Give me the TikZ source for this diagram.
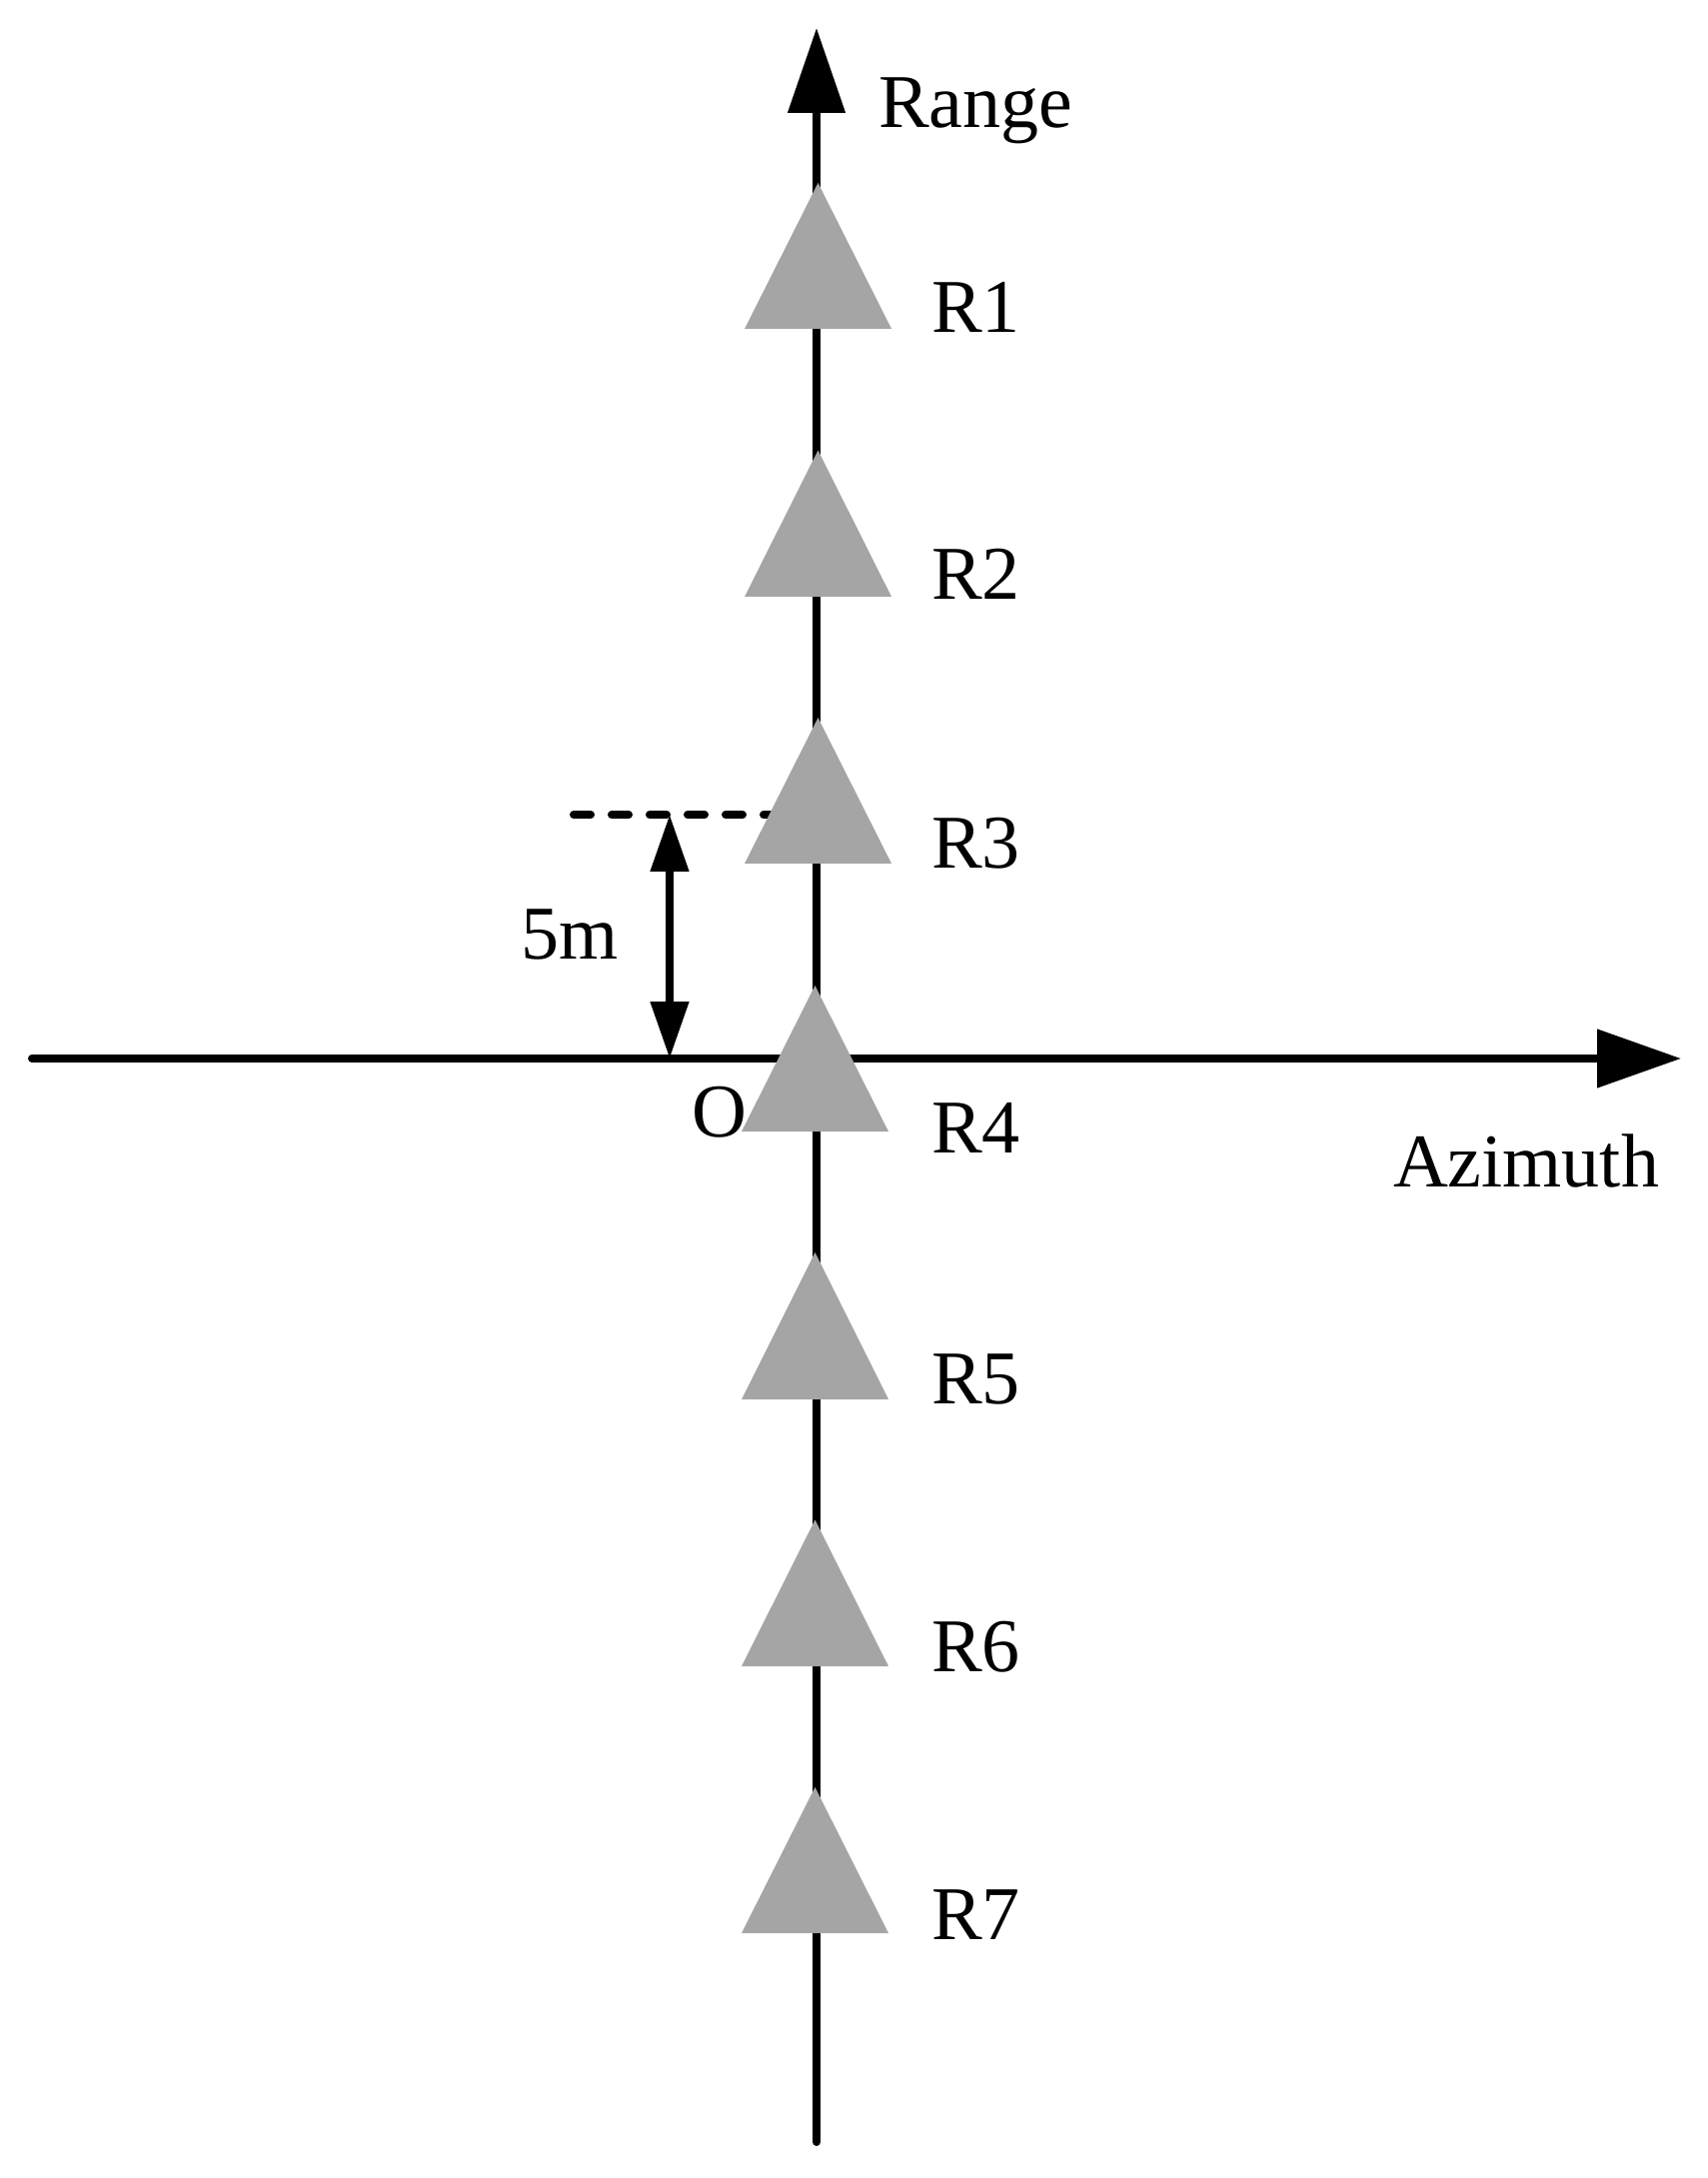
\documentclass[tikz,border=0pt]{standalone}
\usepackage{fontspec}
\setmainfont{Liberation Serif}
\usetikzlibrary{arrows.meta}
\definecolor{trigray}{RGB}{165,165,165}
\tikzset{every picture/.style={line width=2pt, line cap=round}}
\tikzset{axislabel/.style={anchor=base west, inner sep=0pt, font=\fontsize{19}{22}\selectfont}}

\begin{document}
\begin{tikzpicture}[x=0.25pt,y=0.25pt,yscale=-1,xscale=1]
	\useasboundingbox (0,0) rectangle (1709,2179);
	
	%Axis ends
	\coordinate (azL) at (32,1059);
	\coordinate (azR) at (1682,1059);
	\coordinate (rgB) at (817,2143);
	\coordinate (rgT) at (817,28);
	\coordinate (dimT) at (670,815);
	\coordinate (dimB) at (670,1059);
	\coordinate (dashL) at (574,815);
	\coordinate (dashR) at (800,815);
	
	%Straight Lines [Range axis]
	\draw [-{Triangle[length=21.25pt,width=14pt]}] (rgB) -- (rgT) ;
	%Straight Lines [Azimuth axis]
	\draw [-{Triangle[length=21pt,width=14.25pt]}] (azL) -- (azR) ;
	%Straight Lines [5m mark]
	\draw [{Triangle[length=14.25pt,width=9.25pt]}-{Triangle[length=14.25pt,width=9.25pt]}] (dimT) -- (dimB) ;
	%Straight Lines [dashed level]
	\draw [dash pattern={on 4.25pt off 5.25pt}] (dashL) -- (dashR) ;
	
	%Shape: Triangle [R1]
	\fill [trigray] (818.5,183) -- (892,329) -- (745,329) -- cycle ;
	%Shape: Triangle [R2]
	\fill [trigray] (818.5,450.5) -- (892,597) -- (745,597) -- cycle ;
	%Shape: Triangle [R3]
	\fill [trigray] (818.5,718) -- (892,864) -- (745,864) -- cycle ;
	%Shape: Triangle [R4]
	\fill [trigray] (815.5,986) -- (889,1132) -- (742,1132) -- cycle ;
	%Shape: Triangle [R5]
	\fill [trigray] (815.5,1253) -- (889,1400) -- (742,1400) -- cycle ;
	%Shape: Triangle [R6]
	\fill [trigray] (815.5,1520.5) -- (889,1667) -- (742,1667) -- cycle ;
	%Shape: Triangle [R7]
	\fill [trigray] (815.5,1788) -- (889,1934) -- (742,1934) -- cycle ;
	
	% Text Node
	\node (range) [axislabel] at (875,128) {Range};
	% Text Node
	\node (azimuth) [axislabel] at (1390,1187) {Azimuth};
	% Text Node
	\node (origin) [axislabel] at (688,1137) {O};
	% Text Node
	\node (dist) [axislabel] at (517,960) {5m};
	% Text Node
	\node (r1) [axislabel] at (928,333) {R1};
	% Text Node
	\node (r2) [axislabel] at (928,600) {R2};
	% Text Node
	\node (r3) [axislabel] at (928,869) {R3};
	% Text Node
	\node (r4) [axislabel] at (928,1153) {R4};
	% Text Node
	\node (r5) [axislabel] at (928,1404) {R5};
	% Text Node
	\node (r6) [axislabel] at (928,1672) {R6};
	% Text Node
	\node (r7) [axislabel] at (928,1940) {R7};
	
\end{tikzpicture}
\end{document}
